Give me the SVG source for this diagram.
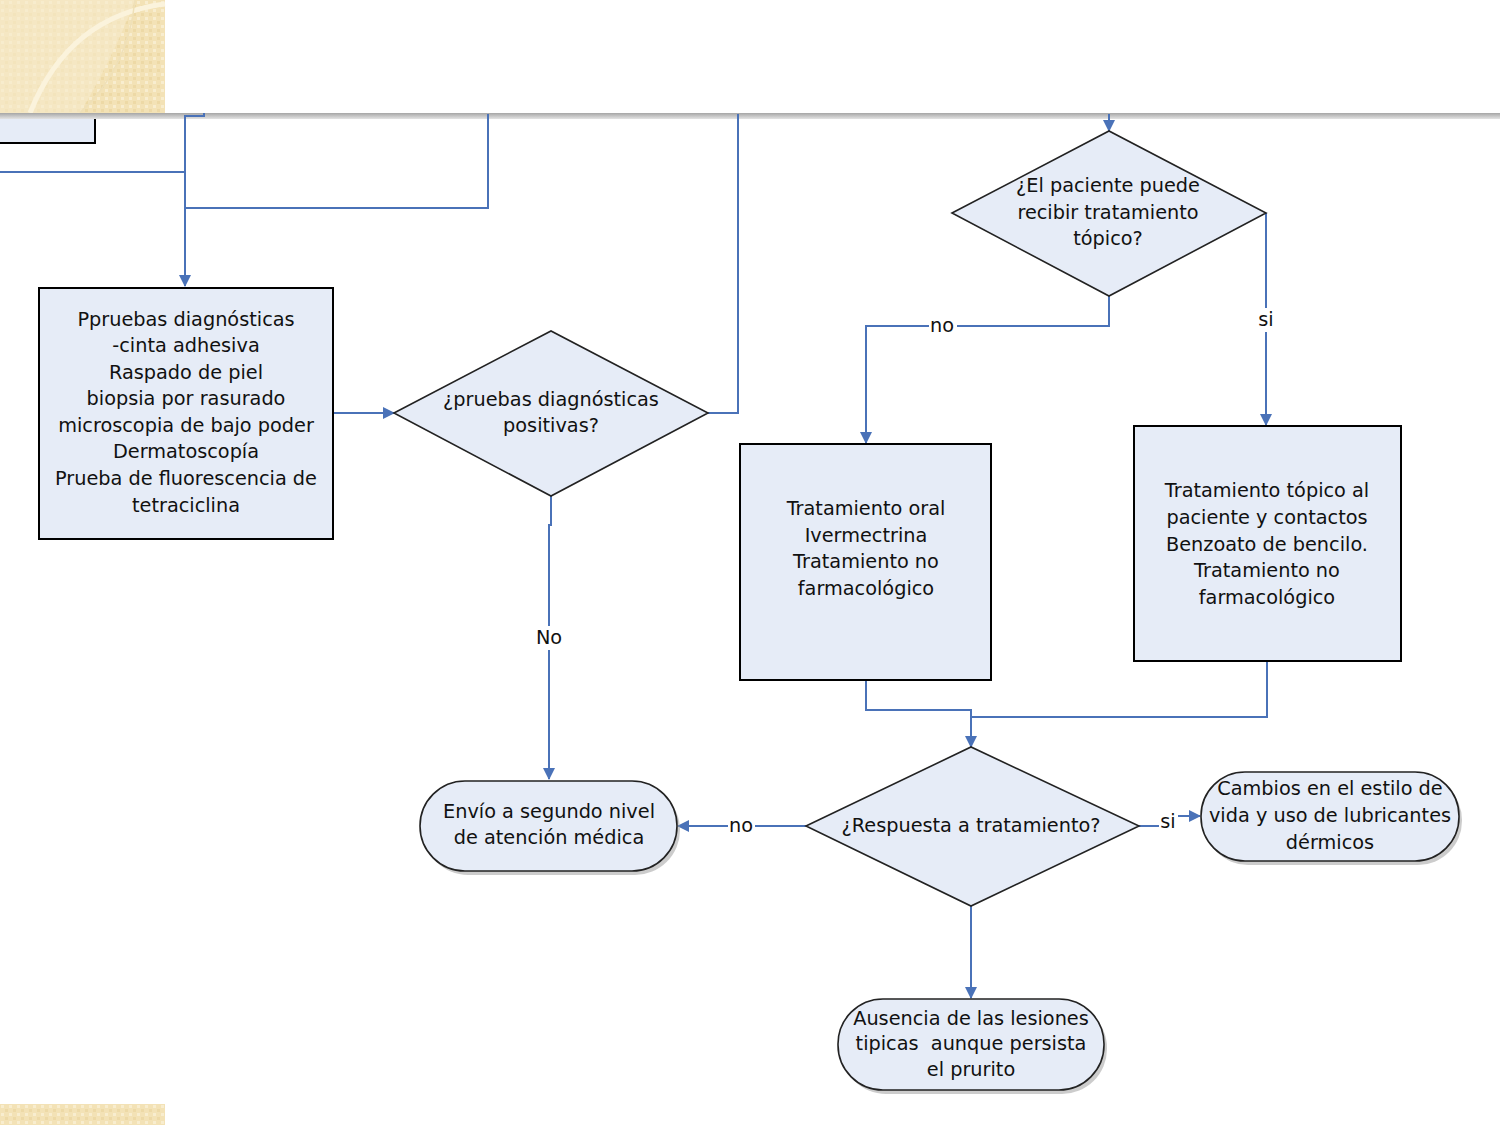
<svg xmlns="http://www.w3.org/2000/svg" width="1500" height="1125" viewBox="0 0 1500 1125">
<style>
.t{font-family:"DejaVu Sans","Liberation Sans",sans-serif;font-size:19.3px;fill:#111;text-anchor:middle;dominant-baseline:middle}
.box{fill:#E6ECF7;stroke:#000;stroke-width:2}
.dia{fill:#E6ECF7;stroke:#222;stroke-width:1.6}
.term{fill:#E6ECF7;stroke:#222;stroke-width:1.6}
.sh{fill:#9a9a9a;opacity:0.5}
.c{fill:none;stroke:#4A72B8;stroke-width:2}
.lb{fill:#fff}
</style>
<defs>
<pattern id="pat" width="8" height="8" patternUnits="userSpaceOnUse">
<rect width="8" height="8" fill="#F3E2B6"/>
<rect x="1" y="1" width="3" height="3" fill="#F8EDCF"/>
<rect x="5" y="5" width="3" height="3" fill="#EDD9A6"/>
</pattern>
<linearGradient id="bar" x1="0" y1="0" x2="0" y2="1">
<stop offset="0" stop-color="#A6A6A6"/>
<stop offset="1" stop-color="#E4E4E4"/>
</linearGradient>
<marker id="ah" markerWidth="12" markerHeight="12" refX="11" refY="6" orient="auto" markerUnits="userSpaceOnUse">
<path d="M0,0 L12,6 L0,12 Z" fill="#4A72B8"/>
</marker>
</defs>
<rect width="1500" height="1125" fill="#fff"/>

<g id="n-partial">
<rect class="box" x="-4" y="105" width="99" height="38"/>
</g>

<g id="decor">
<rect x="0" y="0" width="165" height="113" fill="url(#pat)"/>
<path d="M0,0 H135 C120,40 100,80 80,113 H0 Z" fill="#F7EBCB" opacity="0.6"/>
<path d="M30,113 C55,50 100,12 165,4" fill="none" stroke="#FBF3DC" stroke-width="5"/>
<path d="M80,113 C110,85 130,50 135,0" fill="none" stroke="#EFE0B8" stroke-width="1.5"/>
<rect x="0" y="1104" width="165" height="21" fill="url(#pat)"/>
</g>

<g id="bar-top">
<rect x="0" y="113" width="1500" height="6" fill="url(#bar)"/>
</g>

<g id="connectors">
<path class="c" d="M204,113 V116 H185 V286" marker-end="url(#ah)"/>
<path class="c" d="M0,172 H185"/>
<path class="c" d="M185,208 H488 V114"/>
<path class="c" d="M708,413 H738 V114"/>
<path class="c" d="M333,413 H394" marker-end="url(#ah)"/>
<path class="c" d="M551,496 V525 H549 V779" marker-end="url(#ah)"/>
<path class="c" d="M1109,114 V131" marker-end="url(#ah)"/>
<path class="c" d="M1109,296 V326 H866 V443" marker-end="url(#ah)"/>
<path class="c" d="M1266,213 V425" marker-end="url(#ah)"/>
<path class="c" d="M866,680 V710 H971 V747" marker-end="url(#ah)"/>
<path class="c" d="M1267,661 V717 H971"/>
<path class="c" d="M806,826 H678" marker-end="url(#ah)"/>
<path class="c" d="M1139,826 H1165 V816 H1200" marker-end="url(#ah)"/>
<path class="c" d="M971,906 V998" marker-end="url(#ah)"/>
<rect class="lb" x="534" y="626" width="30" height="24"/>
<text class="t" x="549" y="638">No</text>
<rect class="lb" x="929" y="316" width="28" height="20"/>
<text class="t" x="942" y="326">no</text>
<rect class="lb" x="1256" y="308" width="20" height="24"/>
<text class="t" x="1266" y="320">si</text>
<rect class="lb" x="728" y="816" width="27" height="20"/>
<text class="t" x="741" y="826">no</text>
<rect class="lb" x="1159" y="810" width="19" height="24"/>
<text class="t" x="1168" y="822">si</text>
</g>

<g id="n-pruebas">
<rect class="box" x="39" y="288" width="294" height="251"/>
<text class="t" x="186" y="320">Ppruebas diagnósticas</text>
<text class="t" x="186" y="346">-cinta adhesiva</text>
<text class="t" x="186" y="373">Raspado de piel</text>
<text class="t" x="186" y="399">biopsia por rasurado</text>
<text class="t" x="186" y="426">microscopia de bajo poder</text>
<text class="t" x="186" y="452">Dermatoscopía</text>
<text class="t" x="186" y="479">Prueba de fluorescencia de</text>
<text class="t" x="186" y="506">tetraciclina</text>
</g>

<g id="n-positivas">
<polygon class="dia" points="394,413 551,331 708,413 551,496"/>
<text class="t" x="551" y="400">¿pruebas diagnósticas</text>
<text class="t" x="551" y="426">positivas?</text>
</g>

<g id="n-envio">
<rect class="sh" x="423" y="785" width="257" height="90" rx="45"/>
<rect class="term" x="420" y="781" width="257" height="90" rx="45"/>
<text class="t" x="549" y="812">Envío a segundo nivel</text>
<text class="t" x="549" y="838">de atención médica</text>
</g>

<g id="n-topico">
<polygon class="dia" points="952,213 1109,131 1266,213 1109,296"/>
<text class="t" x="1108" y="186">¿El paciente puede</text>
<text class="t" x="1108" y="213">recibir tratamiento</text>
<text class="t" x="1108" y="239">tópico?</text>
</g>

<g id="n-oral">
<rect class="box" x="740" y="444" width="251" height="236"/>
<text class="t" x="866" y="509">Tratamiento oral</text>
<text class="t" x="866" y="536">Ivermectrina</text>
<text class="t" x="866" y="562">Tratamiento no</text>
<text class="t" x="866" y="589">farmacológico</text>
</g>

<g id="n-topical">
<rect class="box" x="1134" y="426" width="267" height="235"/>
<text class="t" x="1267" y="491">Tratamiento tópico al</text>
<text class="t" x="1267" y="518">paciente y contactos</text>
<text class="t" x="1267" y="545">Benzoato de bencilo.</text>
<text class="t" x="1267" y="571">Tratamiento no</text>
<text class="t" x="1267" y="598">farmacológico</text>
</g>

<g id="n-respuesta">
<polygon class="dia" points="806,826 971,747 1139,826 971,906"/>
<text class="t" x="971" y="826">¿Respuesta a tratamiento?</text>
</g>

<g id="n-cambios">
<rect class="sh" x="1204" y="776" width="258" height="89" rx="44"/>
<rect class="term" x="1201" y="772" width="258" height="89" rx="44"/>
<text class="t" x="1330" y="789">Cambios en el estilo de</text>
<text class="t" x="1330" y="816">vida y uso de lubricantes</text>
<text class="t" x="1330" y="843">dérmicos</text>
</g>

<g id="n-ausencia">
<rect class="sh" x="841" y="1003" width="266" height="91" rx="45"/>
<rect class="term" x="838" y="999" width="266" height="91" rx="45"/>
<text class="t" x="971" y="1019">Ausencia de las lesiones</text>
<text class="t" x="971" y="1044" xml:space="preserve">tipicas  aunque persista</text>
<text class="t" x="971" y="1070">el prurito</text>
</g>
</svg>
